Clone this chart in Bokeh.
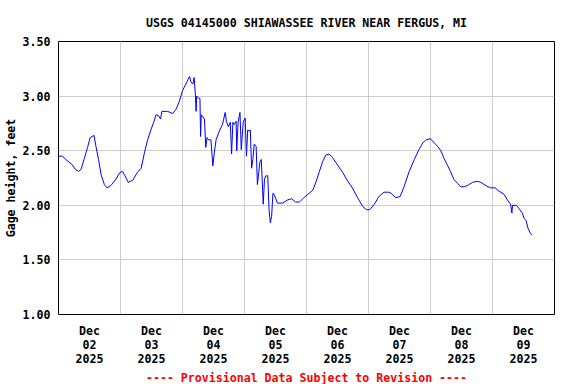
from bokeh.plotting import figure
from bokeh.models import FixedTicker, NumeralTickFormatter, Range1d, Title
from bokeh.embed import file_html
from bokeh.resources import INLINE

# Hours since 2025-12-02 00:00 and gage height (ft)
HOURS = [0.0, 1.5, 3.25, 5.0, 6.5, 7.75, 8.75, 10.0, 11.25, 12.25, 13.75, 14.5, 15.5, 16.5,
         17.75, 18.75, 20.25, 22.25, 23.75, 24.75, 25.75, 27.0, 28.75, 30.5, 32.0, 33.25,
         34.5, 35.75, 37.0, 37.75, 38.75, 39.5, 40.0, 42.25, 44.25, 45.5, 46.75, 48.0,
         49.5, 50.75, 51.25, 52.0, 52.5, 53.0, 53.25, 53.5, 54.25, 54.75, 55.0, 55.25,
         56.5, 57.0, 57.5, 58.0, 59.0, 59.75, 60.25, 61.0, 62.25, 63.5, 64.5, 65.0,
         65.75, 66.5, 67.0, 67.5, 68.0, 68.75, 69.0, 69.5, 70.25, 70.75, 71.5, 72.25,
         72.75, 73.25, 74.0, 74.25, 74.75, 75.25, 75.75, 76.5, 77.0, 77.5, 78.0, 78.5,
         79.25, 79.75, 80.25, 81.0, 81.5, 82.0, 82.5, 83.0, 83.5, 84.75, 86.75, 88.75,
         90.25, 91.75, 93.25, 95.0, 97.0, 98.5, 99.75, 101.0, 102.25, 103.5, 104.75,
         106.0, 108.0, 110.0, 112.0, 113.75, 115.75, 117.75, 119.25, 120.5, 122.25,
         124.0, 126.0, 127.75, 128.75, 130.5, 132.25, 133.75, 135.75, 137.75, 139.5,
         141.0, 142.25, 144.0, 145.5, 146.75, 148.0, 149.25, 150.5, 151.75, 153.0,
         154.5, 155.75, 157.0, 158.25, 160.25, 162.0, 163.5, 165.5, 167.25, 169.0,
         170.5, 172.5, 173.75, 175.0, 175.5, 175.75, 177.25, 178.25, 179.5, 180.25,
         181.0, 181.75, 182.75, 183.25]
GAGE = [2.45, 2.45, 2.41, 2.38, 2.33, 2.31, 2.33, 2.43, 2.53, 2.62, 2.64, 2.54, 2.42, 2.28,
        2.19, 2.16, 2.18, 2.24, 2.30, 2.31, 2.27, 2.21, 2.23, 2.30, 2.34, 2.48,
        2.60, 2.69, 2.77, 2.83, 2.82, 2.79, 2.86, 2.86, 2.84, 2.88, 2.95, 3.05,
        3.12, 3.18, 3.13, 3.11, 3.17, 3.01, 2.86, 3.00, 2.98, 2.98, 2.63, 2.83,
        2.79, 2.53, 2.62, 2.60, 2.60, 2.36, 2.47, 2.60, 2.68, 2.74, 2.85, 2.77,
        2.72, 2.76, 2.47, 2.76, 2.74, 2.77, 2.50, 2.76, 2.85, 2.51, 2.76, 2.80,
        2.45, 2.69, 2.68, 2.69, 2.34, 2.42, 2.56, 2.54, 2.19, 2.30, 2.40, 2.42,
        2.01, 2.24, 2.27, 2.27, 1.96, 1.84, 1.90, 2.11, 2.10, 2.02, 2.02, 2.05,
        2.06, 2.03, 2.03, 2.07, 2.11, 2.14, 2.22, 2.31, 2.40, 2.46, 2.47,
        2.44, 2.37, 2.30, 2.22, 2.16, 2.07, 1.99, 1.96, 1.96, 2.01,
        2.08, 2.12, 2.12, 2.11, 2.07, 2.08, 2.17, 2.31, 2.42, 2.51,
        2.57, 2.60, 2.61, 2.57, 2.54, 2.50, 2.43, 2.37, 2.31, 2.24,
        2.20, 2.17, 2.17, 2.18, 2.21, 2.22, 2.21, 2.18, 2.16, 2.16,
        2.13, 2.10, 2.05, 2.01, 1.93, 2.00, 2.00, 1.97, 1.93, 1.88,
        1.86, 1.79, 1.74, 1.73]

DAY_LABELS = ["Dec\n02\n2025", "Dec\n03\n2025", "Dec\n04\n2025", "Dec\n05\n2025",
              "Dec\n06\n2025", "Dec\n07\n2025", "Dec\n08\n2025", "Dec\n09\n2025"]
Y_TICKS = [1.0, 1.5, 2.0, 2.5, 3.0, 3.5]

FONT = "DejaVu Sans Mono"
FS = "11.6px"

label_ticks = [12 + 24 * i for i in range(len(DAY_LABELS))]
grid_ticks = [24 * i for i in range(1, len(DAY_LABELS))]

p = figure(width=576, height=384, output_backend="svg", toolbar_location=None,
           x_range=Range1d(0, 24 * len(DAY_LABELS)), y_range=Range1d(1.0, 3.5),
           min_border_left=58, min_border_right=22, min_border_top=41, min_border_bottom=70)

p.line(HOURS, GAGE, line_color="#0000FF", line_width=1)

p.outline_line_color = "black"
p.outline_line_width = 1

p.xaxis.ticker = FixedTicker(ticks=label_ticks)
p.xaxis.major_label_overrides = {t: lab for t, lab in zip(label_ticks, DAY_LABELS)}
p.xgrid.ticker = FixedTicker(ticks=grid_ticks)
p.yaxis.ticker = FixedTicker(ticks=Y_TICKS)
p.yaxis.formatter = NumeralTickFormatter(format="0.00")
p.yaxis.axis_label = "Gage height, feet"

for ax in (p.xaxis[0], p.yaxis[0]):
    ax.axis_line_color = None
    ax.major_tick_line_color = None
    ax.minor_tick_line_color = None
    ax.major_tick_out = 0
    ax.major_tick_in = 0
    ax.minor_tick_out = 0
    ax.major_label_text_font = FONT
    ax.major_label_text_font_style = "bold"
    ax.major_label_text_font_size = FS
    ax.major_label_text_color = "black"
    ax.axis_label_text_font = FONT
    ax.axis_label_text_font_style = "bold"
    ax.axis_label_text_font_size = FS
    ax.axis_label_text_color = "black"

p.yaxis.major_label_standoff = 8
p.yaxis.axis_label_standoff = 2
p.xaxis.major_label_standoff = 9
p.xaxis.major_label_text_line_height = 1.0

p.xgrid.grid_line_color = "#CCCCCC"
p.ygrid.grid_line_color = "#CCCCCC"
p.xgrid.grid_line_width = 1
p.ygrid.grid_line_width = 1

p.title.text = "USGS 04145000 SHIAWASSEE RIVER NEAR FERGUS, MI"
p.title.align = "center"
p.title.text_font = FONT
p.title.text_font_style = "bold"
p.title.text_font_size = FS
p.title.text_color = "black"
p.title.standoff = 23

foot = Title(text="---- Provisional Data Subject to Revision ----", align="center",
             text_font=FONT, text_font_style="bold", text_font_size=FS,
             text_color="#FF0000", standoff=0)
p.add_layout(foot, "below")

p.background_fill_color = "white"
p.border_fill_color = "white"

open("out.html", "w").write(file_html(p, INLINE))
